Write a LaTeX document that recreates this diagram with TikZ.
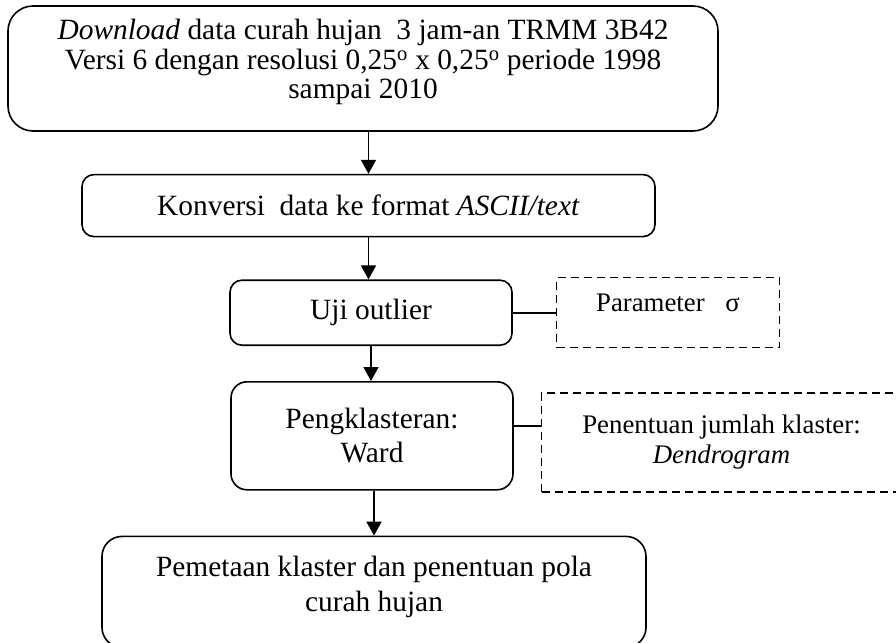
\documentclass[tikz,border=0pt]{standalone}
\usepackage{fontspec}
\setmainfont{Liberation Serif}
\usetikzlibrary{arrows.meta, positioning}
\tikzset{
    process/.style={
        rectangle, draw=black, line width=1.6pt, rounded corners=12pt,
        inner sep=0pt, align=center,
        font=\fontsize{29.4pt}{34pt}\selectfont
    },
    remark/.style={
        rectangle, draw=black, line width=1.4pt, dash pattern=on 8pt off 5pt,
        inner sep=0pt, align=center,
        font=\fontsize{26.8pt}{30pt}\selectfont
    },
    boxtext/.style={inner sep=0pt, outer sep=0pt, align=center},
    flow/.style={draw=black, line width=1.6pt, -{Triangle[length=14pt, width=15pt]}},
    link/.style={draw=black, line width=1.6pt}
}

\begin{document}
\begin{tikzpicture}
\useasboundingbox (0pt,0pt) rectangle (896pt,-642pt);

% Download data
\node[process, rounded corners=25pt, minimum width=710pt, minimum height=125pt] (download) at (363pt,-68.5pt) {};
\node[boxtext, font=\fontsize{29.4pt}{29.5pt}\selectfont, below=14pt of download.north] (downloadtext)
    {\textit{Download} data curah hujan\ \ 3 jam-an TRMM 3B42\\
     Versi 6 dengan resolusi 0,25\textsuperscript{o} x 0,25\textsuperscript{o} periode 1998\\
     sampai 2010};

% Konversi
\node[process, minimum width=573pt, minimum height=62pt, below=42pt of download, xshift=5.5pt] (konversi)
    {Konversi\ \ data ke format \textit{ASCII/text}};

% Uji outlier
\node[process, minimum width=282pt, minimum height=65pt, below=42pt of konversi, xshift=2.5pt] (uji) {Uji outlier};
\node[remark, minimum width=223pt, minimum height=70pt, text depth=20pt, right=43pt of uji] (param) {Parameter\hspace{14pt} σ};

% Klaster
\node[process, rounded corners=16pt, minimum width=282pt, minimum height=108pt, below=35pt of uji, xshift=1pt] (ward)
    {Pengklasteran:\\ Ward};
\node[remark, minimum width=360pt, minimum height=99pt, right=27pt of ward, yshift=-6.5pt] (dendro)
    {Penentuan jumlah klaster:\\ \textit{Dendrogram}};

% Pemetaan
\node[process, rounded corners=20pt, minimum width=544pt, minimum height=111pt, below=45pt of ward, xshift=2pt] (pola) {};
\node[boxtext, font=\fontsize{29.4pt}{35pt}\selectfont, below=20pt of pola.north] (polatext)
    {Pemetaan klaster dan penentuan pola\\ curah hujan};

\draw[flow] (download.south -| konversi.north) -- (konversi.north);
\draw[flow] (konversi.south) -- (konversi.south |- uji.north);
\draw[flow] (uji.south) -- (uji.south |- ward.north);
\draw[flow] (ward.south -| pola.north) -- (pola.north);

\draw[link] (uji.east) -- (param.west);
\draw[link] ([yshift=10pt]ward.east) -- ([yshift=10pt]ward.east -| dendro.west);

\end{tikzpicture}
\end{document}
